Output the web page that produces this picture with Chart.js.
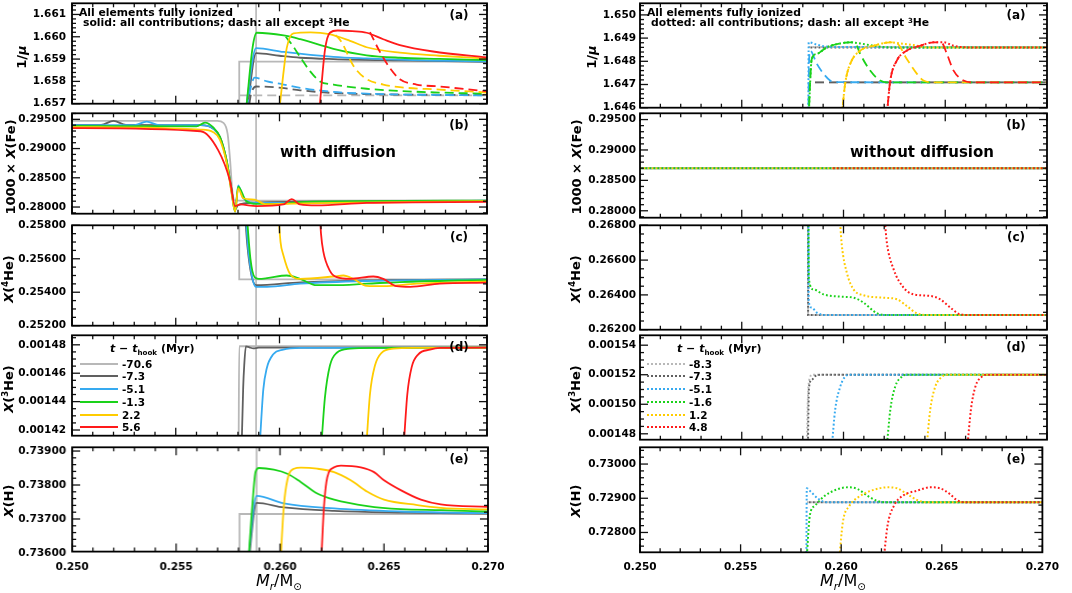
<!DOCTYPE html>
<html>
<head>
<meta charset="utf-8">
<title>Abundance profiles with and without diffusion</title>
<script src="https://cdn.jsdelivr.net/npm/chart.js@4.4.1/dist/chart.umd.min.js"></script>
<style>
html,body{margin:0;padding:0;background:#fff;}
body{width:1072px;height:593px;overflow:hidden;position:relative;font-family:"DejaVu Sans",sans-serif;color:#000;}
canvas{position:absolute;}
.tx{position:absolute;white-space:nowrap;font-weight:bold;line-height:1;}
.yt{position:absolute;white-space:nowrap;font-weight:bold;font-size:13px;line-height:1;transform:translate(-50%,-50%) rotate(-90deg);}
.xt{position:absolute;white-space:nowrap;font-size:16px;line-height:1;transform:translate(-50%,-50%);}
.lg{position:absolute;height:0;width:38px;}
sup{font-size:65%;vertical-align:0.5em;line-height:0;}
sub{font-size:65%;vertical-align:-0.35em;line-height:0;}
</style>
</head>
<body>
<script>
// ====================== DATA ======================
const xTicks = [0.250, 0.255, 0.260, 0.265, 0.270];
const ageWith    = ['-70.6', '-7.3', '-5.1', '-1.3', '2.2', '5.6'];
const ageWithout = ['-8.3', '-7.3', '-5.1', '-1.6', '1.2', '4.8'];
const refMassWith = 0.25887;

// y tick labels and ranges
const yTicks_aL = [1.657, 1.658, 1.659, 1.660, 1.661];     const yRange_aL = [1.657, 1.6615];
const yTicks_aR = [1.646, 1.647, 1.648, 1.649, 1.650];     const yRange_aR = [1.646, 1.6505];
const yTicks_b  = [0.280, 0.285, 0.290, 0.295];            const yRange_b  = [0.27886, 0.29603];
const yTicks_cL = [0.252, 0.254, 0.256, 0.258];            const yRange_cL = [0.252, 0.258];
const yTicks_cR = [0.262, 0.264, 0.266, 0.268];            const yRange_cR = [0.262, 0.268];
const yTicks_dL = [0.00142, 0.00144, 0.00146, 0.00148];    const yRange_dL = [0.001416, 0.0014867];
const yTicks_dR = [0.00148, 0.00150, 0.00152, 0.00154];    const yRange_dR = [0.001476, 0.0015467];
const yTicks_eL = [0.736, 0.737, 0.738, 0.739];            const yRange_eL = [0.73604, 0.73911];
const yTicks_eR = [0.728, 0.729, 0.730];                   const yRange_eR = [0.72742, 0.73049];

// ---------- WITH diffusion (left) ----------
// (a) 1/mu, all contributions
const aL_lgray  = [[0.25806,1.6560],[0.25806,1.65889],[0.270,1.65889]];
const aL_dgray  = [[0.25845,1.6568],[0.25887,1.65927],[0.2600,1.65915],[0.2610,1.65906],[0.2626,1.65900],[0.2658,1.65894],[0.270,1.65888]];
const aL_blue   = [[0.25838,1.6568],[0.25887,1.65949],[0.2602,1.65932],[0.2626,1.65910],[0.2642,1.65903],[0.2670,1.65894],[0.270,1.65890]];
const aL_green  = [[0.25840,1.6568],[0.25870,1.6595],[0.25890,1.66018],[0.2602,1.66006],[0.2610,1.65989],[0.2626,1.65946],[0.2642,1.65917],[0.2658,1.65906],[0.2677,1.65901],[0.270,1.65895]];
const aL_yellow = [[0.26000,1.6568],[0.26018,1.6583],[0.26035,1.6595],[0.26067,1.66015],[0.2615,1.66020],[0.2624,1.66012],[0.2634,1.65982],[0.2642,1.65953],[0.2658,1.65929],[0.2677,1.65915],[0.270,1.65902]];
const aL_red    = [[0.26193,1.6568],[0.26219,1.6594],[0.26243,1.66018],[0.2628,1.66028],[0.2635,1.66025],[0.2642,1.66018],[0.2650,1.65989],[0.2658,1.65963],[0.2674,1.65934],[0.270,1.65907]];
// (a) 1/mu, all except 3He
const aL_lgray_x3  = [[0.25806,1.65737],[0.270,1.65737]];
const aL_dgray_x3  = [[0.25855,1.6570],[0.25862,1.6574],[0.25887,1.65777],[0.2601,1.65771],[0.2610,1.65760],[0.2626,1.65748],[0.2642,1.65743],[0.270,1.65739]];
const aL_blue_x3   = [[0.25840,1.6568],[0.25880,1.65817],[0.2594,1.65800],[0.2602,1.65786],[0.2610,1.65771],[0.2626,1.65753],[0.2642,1.65745],[0.270,1.65737]];
const aL_green_x3  = [[0.26030,1.66000],[0.26060,1.65965],[0.26099,1.65910],[0.26147,1.65846],[0.26195,1.65800],[0.2626,1.65786],[0.2642,1.65767],[0.2658,1.65757],[0.2677,1.65750],[0.270,1.65745]];
const aL_yellow_x3 = [[0.26270,1.66008],[0.26300,1.65975],[0.26356,1.65870],[0.2642,1.65810],[0.2650,1.65786],[0.2658,1.65774],[0.26773,1.65763],[0.270,1.65750]];
const aL_red_x3    = [[0.26436,1.66021],[0.26484,1.65932],[0.26532,1.65860],[0.2658,1.65810],[0.2666,1.65786],[0.26773,1.65777],[0.270,1.65755]];
// (b) 1000 X(Fe)
const bL_lgray  = [[0.250,0.29475],[0.2570,0.29472],[0.25730,0.29440],[0.25750,0.2925],[0.25762,0.2880],[0.25772,0.2830],[0.25785,0.28115],[0.2590,0.28110],[0.270,0.28112]];
const bL_dgray  = [[0.250,0.29405],[0.2514,0.29405],[0.2520,0.29472],[0.2526,0.29405],[0.2562,0.29400],[0.25681,0.2934],[0.25713,0.2920],[0.25745,0.2880],[0.25769,0.2830],[0.25786,0.2796],[0.2580,0.2803],[0.2588,0.28075],[0.2610,0.28090],[0.270,0.28105]];
const bL_blue   = [[0.250,0.29400],[0.2530,0.29400],[0.2536,0.29460],[0.2542,0.29400],[0.2562,0.29400],[0.25681,0.2934],[0.25713,0.2918],[0.25745,0.2878],[0.25769,0.2825],[0.25786,0.2792],[0.25801,0.28371],[0.25825,0.28152],[0.2589,0.28070],[0.2602,0.28070],[0.2626,0.28075],[0.270,0.28110]];
const bL_green  = [[0.250,0.29389],[0.2560,0.29380],[0.25641,0.29443],[0.25681,0.2936],[0.25713,0.2920],[0.25745,0.2880],[0.25769,0.2828],[0.25786,0.2792],[0.25801,0.2835],[0.2584,0.2810],[0.2589,0.28055],[0.2602,0.28060],[0.2610,0.28085],[0.270,0.28110]];
const bL_yellow = [[0.250,0.29368],[0.2562,0.29324],[0.25681,0.2928],[0.25713,0.2915],[0.25745,0.2876],[0.25769,0.2824],[0.25786,0.2792],[0.25801,0.2832],[0.25825,0.2815],[0.2588,0.28126],[0.2593,0.28050],[0.2602,0.28055],[0.2626,0.28070],[0.270,0.28100]];
const bL_red    = [[0.250,0.29351],[0.2562,0.29296],[0.25705,0.28969],[0.25761,0.28452],[0.25786,0.28016],[0.2581,0.28044],[0.2589,0.28016],[0.26018,0.28044],[0.26059,0.28136],[0.26099,0.28044],[0.26179,0.28027],[0.2642,0.28070],[0.270,0.28087]];
// (c) X(4He)
const cL_lgray  = [[0.25806,0.2590],[0.25806,0.25477],[0.270,0.25477]];
const cL_dgray  = [[0.25832,0.2590],[0.25845,0.2568],[0.25865,0.2550],[0.25887,0.25442],[0.2610,0.25459],[0.2642,0.25471],[0.270,0.25477]];
const cL_blue   = [[0.25835,0.2590],[0.25850,0.2565],[0.25870,0.2548],[0.25887,0.25432],[0.2594,0.25432],[0.2610,0.25451],[0.2642,0.25467],[0.270,0.25476]];
const cL_green  = [[0.25840,0.2590],[0.25860,0.2560],[0.25880,0.2549],[0.2590,0.25480],[0.2594,0.25484],[0.26035,0.25500],[0.26099,0.25480],[0.26179,0.25442],[0.2626,0.25442],[0.2642,0.25451],[0.2658,0.25461],[0.270,0.25474]];
const cL_yellow = [[0.25993,0.2590],[0.26005,0.2570],[0.26018,0.25624],[0.26051,0.25509],[0.26099,0.25480],[0.2626,0.25494],[0.26308,0.25500],[0.26356,0.25480],[0.2642,0.25438],[0.2650,0.25436],[0.2666,0.25451],[0.270,0.25465]];
const cL_red    = [[0.26193,0.2590],[0.26200,0.2575],[0.26211,0.25644],[0.26243,0.25528],[0.26276,0.25490],[0.2634,0.25480],[0.26452,0.25494],[0.2650,0.25480],[0.26564,0.25436],[0.26629,0.25432],[0.26773,0.25451],[0.270,0.25457]];
// (d) X(3He)
const dL_lgray  = [[0.25803,0.00141],[0.25806,0.001479],[0.270,0.001479]];
const dL_dgray  = [[0.25818,0.00141],[0.25825,0.001450],[0.25830,0.0014654],[0.25838,0.0014789],[0.25855,0.0014782],[0.25874,0.0014775],[0.2590,0.0014780],[0.270,0.0014780]];
const dL_blue   = [[0.25905,0.00141],[0.25922,0.0014486],[0.25938,0.0014632],[0.2597,0.0014733],[0.26018,0.0014766],[0.26099,0.0014778],[0.270,0.0014780]];
const dL_green  = [[0.26202,0.00141],[0.26219,0.001443],[0.26243,0.0014654],[0.26276,0.0014744],[0.2634,0.0014773],[0.2645,0.0014779],[0.270,0.0014780]];
const dL_yellow = [[0.26419,0.00141],[0.26436,0.0014452],[0.2646,0.0014654],[0.26492,0.0014744],[0.26549,0.0014773],[0.2665,0.0014779],[0.270,0.0014780]];
const dL_red    = [[0.26599,0.00141],[0.26616,0.0014452],[0.26637,0.0014643],[0.26669,0.0014733],[0.26725,0.0014766],[0.26773,0.0014778],[0.270,0.0014780]];
// (e) X(H)
const eL_lgray  = [[0.25805,0.7355],[0.25805,0.737146],[0.270,0.737146]];
const eL_dgray  = [[0.25845,0.7355],[0.25887,0.737475],[0.26018,0.73734],[0.2626,0.73724],[0.2658,0.73719],[0.270,0.73716]];
const eL_blue   = [[0.25842,0.7355],[0.25887,0.73768],[0.26018,0.73746],[0.2626,0.73731],[0.2658,0.73722],[0.270,0.73717]];
const eL_green  = [[0.25845,0.7355],[0.25868,0.7375],[0.25882,0.73838],[0.25898,0.73850],[0.2597,0.73845],[0.26035,0.73833],[0.26099,0.73809],[0.26179,0.73775],[0.2626,0.73757],[0.2642,0.73738],[0.2658,0.73729],[0.26773,0.73726],[0.270,0.73722]];
const eL_yellow = [[0.26000,0.7355],[0.26018,0.73736],[0.26035,0.73814],[0.26067,0.73848],[0.26099,0.73851],[0.26179,0.73848],[0.2626,0.73838],[0.2634,0.73814],[0.2642,0.73780],[0.2650,0.73757],[0.2666,0.73741],[0.26773,0.73733],[0.270,0.73728]];
const eL_red    = [[0.26196,0.7355],[0.26211,0.73736],[0.26227,0.73823],[0.2626,0.73852],[0.26292,0.73857],[0.26388,0.73852],[0.26452,0.73838],[0.2650,0.73814],[0.2658,0.73785],[0.26677,0.73757],[0.26773,0.73743],[0.270,0.73736]];

// ---------- WITHOUT diffusion (right) ----------
// (a) 1/mu, all contributions
const aR_lgray  = [[0.25828,1.64862],[0.270,1.64862]];
const aR_dgray  = [[0.25828,1.64860],[0.270,1.64860]];
const aR_blue   = [[0.25827,1.6455],[0.25829,1.64882],[0.25869,1.64872],[0.25934,1.64862],[0.270,1.64860]];
const aR_green  = [[0.25828,1.6455],[0.25844,1.6481],[0.25869,1.64832],[0.25918,1.64860],[0.25984,1.64877],[0.26033,1.64882],[0.26082,1.64877],[0.26148,1.64867],[0.2623,1.64860],[0.270,1.64860]];
const aR_yellow = [[0.25990,1.6455],[0.26008,1.64703],[0.26033,1.64789],[0.26082,1.64846],[0.26148,1.64867],[0.2623,1.64882],[0.26279,1.64877],[0.26344,1.64870],[0.2641,1.64860],[0.270,1.64860]];
const aR_red    = [[0.26211,1.6455],[0.2623,1.64717],[0.26262,1.64803],[0.26311,1.64846],[0.26377,1.64867],[0.26443,1.64882],[0.26492,1.64882],[0.26541,1.64867],[0.26607,1.64860],[0.270,1.64860]];
// (a) 1/mu, all except 3He
const aR_lgray_x3  = [[0.2586,1.64709],[0.270,1.64709]];
const aR_dgray_x3  = [[0.2586,1.64709],[0.270,1.64709]];
const aR_blue_x3   = [[0.25827,1.6455],[0.25831,1.64803],[0.25836,1.64846],[0.25869,1.64789],[0.25902,1.64746],[0.25934,1.64717],[0.25951,1.64710],[0.270,1.64709]];
const aR_green_x3  = [[0.25828,1.6455],[0.25844,1.6481],[0.25869,1.64832],[0.25918,1.64860],[0.25984,1.64877],[0.26033,1.64882],[0.26060,1.64875],[0.26082,1.64832],[0.26131,1.64760],[0.2618,1.64717],[0.26213,1.64709],[0.270,1.64709]];
const aR_yellow_x3 = [[0.25990,1.6455],[0.26008,1.64703],[0.26033,1.64789],[0.26082,1.64846],[0.26148,1.64867],[0.2623,1.64882],[0.26262,1.64878],[0.26311,1.64810],[0.26361,1.64746],[0.26393,1.64717],[0.26443,1.64709],[0.270,1.64709]];
const aR_red_x3    = [[0.26211,1.6455],[0.2623,1.64717],[0.26262,1.64803],[0.26311,1.64846],[0.26377,1.64867],[0.26443,1.64882],[0.26484,1.64878],[0.26508,1.64832],[0.26541,1.64760],[0.2659,1.64717],[0.26639,1.64709],[0.270,1.64709]];
// (b) 1000 X(Fe)
const bR_lgray  = [[0.250,0.28698],[0.270,0.28698]];
const bR_dgray  = [[0.250,0.28698],[0.270,0.28698]];
const bR_blue   = [[0.250,0.28698],[0.270,0.28698]];
const bR_green  = [[0.250,0.28698],[0.270,0.28698]];
const bR_yellow = [[0.250,0.28698],[0.270,0.28698]];
const bR_red    = [[0.2594,0.28698],[0.270,0.28698]];
// (c) X(4He)
const cR_lgray  = [[0.25826,0.2690],[0.25826,0.26284],[0.270,0.26284]];
const cR_dgray  = [[0.25826,0.2690],[0.25826,0.26284],[0.270,0.26284]];
const cR_blue   = [[0.25827,0.2690],[0.25829,0.26365],[0.25844,0.26327],[0.25869,0.26298],[0.25918,0.26284],[0.270,0.26284]];
const cR_green  = [[0.25828,0.2690],[0.25830,0.26490],[0.25852,0.26432],[0.25902,0.26403],[0.25984,0.26390],[0.26049,0.26384],[0.26098,0.26356],[0.26148,0.26307],[0.2618,0.26288],[0.2623,0.26284],[0.270,0.26284]];
const cR_yellow = [[0.25975,0.2690],[0.25984,0.26800],[0.25992,0.26682],[0.26016,0.26529],[0.26049,0.26432],[0.26098,0.26398],[0.26197,0.26384],[0.26262,0.26375],[0.26311,0.26336],[0.26361,0.26294],[0.2641,0.26284],[0.270,0.26284]];
const cR_red    = [[0.26197,0.2690],[0.26205,0.26800],[0.26213,0.26701],[0.26246,0.26548],[0.26295,0.26442],[0.26344,0.26403],[0.26426,0.26394],[0.26475,0.26375],[0.26525,0.26327],[0.26574,0.26288],[0.26623,0.26284],[0.270,0.26284]];
// (d) X(3He)
const dR_lgray  = [[0.25820,0.00147],[0.25824,0.001500],[0.25835,0.0015180],[0.25847,0.0015200],[0.270,0.0015200]];
const dR_dgray  = [[0.25825,0.00147],[0.25830,0.0015108],[0.25844,0.0015164],[0.25869,0.0015198],[0.25918,0.0015200],[0.270,0.0015200]];
const dR_blue   = [[0.25942,0.00147],[0.25959,0.0014962],[0.25984,0.0015119],[0.26008,0.0015187],[0.26033,0.0015200],[0.270,0.0015200]];
const dR_green  = [[0.26212,0.00147],[0.2623,0.0014962],[0.26254,0.0015119],[0.26287,0.0015187],[0.26311,0.0015200],[0.270,0.0015200]];
const dR_yellow = [[0.26408,0.00147],[0.26426,0.0014962],[0.26451,0.0015119],[0.26484,0.0015187],[0.26508,0.0015200],[0.270,0.0015200]];
const dR_red    = [[0.26608,0.00147],[0.26626,0.0014962],[0.26648,0.0015119],[0.2668,0.0015187],[0.26705,0.0015200],[0.270,0.0015200]];
// (e) X(H)
const eR_lgray  = [[0.25830,0.72888],[0.270,0.72888]];
const eR_dgray  = [[0.25830,0.72888],[0.270,0.72888]];
const eR_blue   = [[0.25827,0.7272],[0.25829,0.72929],[0.25852,0.72917],[0.25885,0.72899],[0.25918,0.72889],[0.2595,0.72888],[0.270,0.72888]];
const eR_green  = [[0.25828,0.7272],[0.25844,0.72849],[0.25869,0.72878],[0.25918,0.72907],[0.25984,0.72927],[0.26033,0.72932],[0.26082,0.72927],[0.26131,0.72907],[0.2618,0.72892],[0.2623,0.72888],[0.270,0.72888]];
const eR_yellow = [[0.25990,0.7272],[0.26008,0.72829],[0.26041,0.72878],[0.26082,0.72902],[0.26148,0.72922],[0.2623,0.72932],[0.26279,0.72929],[0.26328,0.72912],[0.26377,0.72895],[0.26426,0.72888],[0.270,0.72888]];
const eR_red    = [[0.26211,0.7272],[0.2623,0.72819],[0.26262,0.72878],[0.26311,0.72909],[0.26377,0.72922],[0.26443,0.72932],[0.26492,0.72929],[0.26541,0.72912],[0.26574,0.72895],[0.26623,0.72888],[0.270,0.72888]];

// ====================== STYLE / LAYOUT ======================
const KEYS   = ['lgray','dgray','blue','green','yellow','red'];
const COLORS = {lgray:'#b8b8b8', dgray:'#606060', blue:'#36aaf0', green:'#1ad21a', yellow:'#ffcc00', red:'#ff1a1a'};
const ORDER  = {red:1, yellow:2, green:3, blue:4, dgray:5, lgray:6};
const DOT_OFFSET = {lgray:0, dgray:2, blue:1, green:3, yellow:0.5, red:2.5};
const PANEL_TOP = [3, 113, 225, 335, 447];
const PANEL_H = 105;
const COL_LEFT = [72, 640], COL_W = [415, 407], COL_YW = [72, 99], COL_LABPAD = [6, 4];
const TICK_FONT = {family:'DejaVu Sans', size:10.5, weight:'bold'};

const framePlugin = {
  id: 'frameTicks',
  beforeDatasetsDraw(chart, args, o) {
    if (o.vline == null) return;
    const a = chart.chartArea, c = chart.ctx, px = chart.scales.x.getPixelForValue(o.vline);
    c.save(); c.strokeStyle = '#8a8a8a'; c.lineWidth = 1;
    c.beginPath(); c.moveTo(px, a.top); c.lineTo(px, a.bottom); c.stroke(); c.restore();
  },
  afterDatasetsDraw(chart, args, o) {
    const a = chart.chartArea, c = chart.ctx, xs = chart.scales.x, ys = chart.scales.y;
    c.save(); c.strokeStyle = '#111'; c.lineWidth = 1.3;
    const seg = (x1, y1, x2, y2) => { c.beginPath(); c.moveTo(x1, y1); c.lineTo(x2, y2); c.stroke(); };
    for (let i = 0; i <= 20; i++) {
      const px = xs.getPixelForValue(0.25 + i * 0.001), L = (i % 5 === 0) ? 8 : 4;
      seg(px, a.bottom, px, a.bottom - L); seg(px, a.top, px, a.top + L);
    }
    const isMajor = v => o.yMajor.some(m => Math.abs(m - v) < o.yMinor * 0.01);
    const i0 = Math.ceil(ys.min / o.yMinor - 1e-6), i1 = Math.floor(ys.max / o.yMinor + 1e-6);
    for (let i = i0; i <= i1; i++) {
      const v = i * o.yMinor, py = ys.getPixelForValue(v), L = isMajor(v) ? 8 : 4;
      seg(a.left, py, a.left + L, py); seg(a.right, py, a.right - L, py);
    }
    c.lineWidth = 1.8; c.strokeStyle = '#000';
    c.strokeRect(a.left, a.top, a.right - a.left, a.bottom - a.top);
    c.restore();
  }
};
Chart.register(framePlugin);

function mkDataset(arr, key, kind) {
  const step = arr.some((p, i) => i > 0 && p[0] === arr[i - 1][0]);
  return {
    data: arr.map(p => ({x: p[0], y: p[1]})),
    borderColor: COLORS[key],
    borderWidth: kind === 'dot' ? 2 : 1.8,
    borderDash: kind === 'dash' ? [9, 5] : (kind === 'dot' ? [1.8, 2.2] : []),
    borderDashOffset: kind === 'dot' ? DOT_OFFSET[key] : 0,
    borderCapStyle: 'butt',
    pointRadius: 0, fill: false,
    tension: step ? 0 : 0.4,
    cubicInterpolationMode: step ? 'default' : 'monotone',
    order: ORDER[key] + (kind === 'dash' ? 0.5 : 0)
  };
}

function makePanel(col, row, series, yTicks, yRange, yDec, yMinor) {
  const bottom = row === 4;
  const yW = COL_YW[col], plotW = COL_W[col];
  const padR = 20, padT = 10, xH = 28, padB = bottom ? 6 : 10;
  const cv = document.createElement('canvas');
  let W = yW + plotW + padR, H = padT + PANEL_H + (bottom ? xH : 0) + padB;
  cv.width = W; cv.height = H;
  cv.style.width = W + 'px'; cv.style.height = H + 'px';
  document.body.appendChild(cv);
  const xAxis = {type: 'linear', min: 0.25, max: 0.27, display: bottom,
      grid: {display: false, drawTicks: false}, border: {display: false},
      ticks: {font: TICK_FONT, color: '#000', padding: 9, maxRotation: 0, autoSkip: false,
              callback: v => Number(v).toFixed(3)},
      afterBuildTicks: s => { s.ticks = xTicks.map(v => ({value: v})); }};
  if (bottom) xAxis.afterFit = s => { s.height = xH; };
  const chart = new Chart(cv, {
    type: 'line',
    data: {datasets: series.map(s => mkDataset(s[0], s[1], s[2]))},
    options: {
      responsive: false, animation: false, events: [],
      layout: {padding: {left: 0, right: padR, top: padT, bottom: padB}},
      plugins: {legend: {display: false}, tooltip: {enabled: false},
                frameTicks: {vline: col === 0 ? refMassWith : null, yMajor: yTicks, yMinor: yMinor}},
      scales: {
        x: xAxis,
        y: {type: 'linear', min: yRange[0], max: yRange[1],
            grid: {display: false, drawTicks: false}, border: {display: false},
            ticks: {font: TICK_FONT, color: '#000', padding: COL_LABPAD[col], autoSkip: false,
                    callback: v => Number(v).toFixed(yDec)},
            afterBuildTicks: s => { s.ticks = yTicks.map(v => ({value: v})); },
            afterFit: s => { s.width = yW; }}
      }
    }
  });
  // make the plotting area land exactly on its panel box
  let ca = chart.chartArea;
  const dh = PANEL_H - (ca.bottom - ca.top), dw = plotW - (ca.right - ca.left);
  if (Math.abs(dh) > 0.5 || Math.abs(dw) > 0.5) {
    W += dw; H += dh;
    chart.resize(W, H);
    ca = chart.chartArea;
  }
  cv.style.left = (COL_LEFT[col] - ca.left) + 'px';
  cv.style.top = (PANEL_TOP[row] - ca.top) + 'px';
}

function group(list, kind) { return KEYS.map((k, i) => [list[i], k, kind]); }

const L = {
  a: group([aL_lgray, aL_dgray, aL_blue, aL_green, aL_yellow, aL_red], 'solid')
       .concat(group([aL_lgray_x3, aL_dgray_x3, aL_blue_x3, aL_green_x3, aL_yellow_x3, aL_red_x3], 'dash')),
  b: group([bL_lgray, bL_dgray, bL_blue, bL_green, bL_yellow, bL_red], 'solid'),
  c: group([cL_lgray, cL_dgray, cL_blue, cL_green, cL_yellow, cL_red], 'solid'),
  d: group([dL_lgray, dL_dgray, dL_blue, dL_green, dL_yellow, dL_red], 'solid'),
  e: group([eL_lgray, eL_dgray, eL_blue, eL_green, eL_yellow, eL_red], 'solid')
};
const R = {
  a: group([aR_lgray_x3, aR_dgray_x3, aR_blue_x3, aR_green_x3, aR_yellow_x3, aR_red_x3], 'dash')
       .concat(group([aR_lgray, aR_dgray, aR_blue, aR_green, aR_yellow, aR_red], 'dot')),
  b: group([bR_lgray, bR_dgray, bR_blue, bR_green, bR_yellow, bR_red], 'dot'),
  c: group([cR_lgray, cR_dgray, cR_blue, cR_green, cR_yellow, cR_red], 'dot'),
  d: group([dR_lgray, dR_dgray, dR_blue, dR_green, dR_yellow, dR_red], 'dot'),
  e: group([eR_lgray, eR_dgray, eR_blue, eR_green, eR_yellow, eR_red], 'dot')
};

makePanel(0, 0, L.a, yTicks_aL, yRange_aL, 3, 0.0002);
makePanel(0, 1, L.b, yTicks_b,  yRange_b,  5, 0.001);
makePanel(0, 2, L.c, yTicks_cL, yRange_cL, 5, 0.0005);
makePanel(0, 3, L.d, yTicks_dL, yRange_dL, 5, 0.000005);
makePanel(0, 4, L.e, yTicks_eL, yRange_eL, 5, 0.0002);
makePanel(1, 0, R.a, yTicks_aR, yRange_aR, 3, 0.0002);
makePanel(1, 1, R.b, yTicks_b,  yRange_b,  5, 0.001);
makePanel(1, 2, R.c, yTicks_cR, yRange_cR, 5, 0.0005);
makePanel(1, 3, R.d, yTicks_dR, yRange_dR, 5, 0.000005);
makePanel(1, 4, R.e, yTicks_eR, yRange_eR, 5, 0.0002);

// ====================== TEXT OVERLAYS ======================
function addText(html, x, y, cls, size, extra) {
  const d = document.createElement('div');
  d.className = cls; d.innerHTML = html;
  d.style.left = x + 'px'; d.style.top = y + 'px';
  if (size) d.style.fontSize = size + 'px';
  if (extra) Object.assign(d.style, extra);
  document.body.appendChild(d);
  return d;
}
const yTitles = ['1/<i>μ</i>', '1000 × <i>X</i>(Fe)', '<i>X</i>(<sup>4</sup>He)', '<i>X</i>(<sup>3</sup>He)', '<i>X</i>(H)'];
const yTitleXL = [21, 10, 8, 8, 8], yTitleXR = [591, 576, 575, 575, 575];
const panelLetters = ['(a)', '(b)', '(c)', '(d)', '(e)'];
for (let r = 0; r < 5; r++) {
  const cy = PANEL_TOP[r] + PANEL_H / 2 + 1;
  addText(yTitles[r], yTitleXL[r], cy, 'yt');
  addText(yTitles[r], yTitleXR[r], cy, 'yt');
  addText(panelLetters[r], 459, PANEL_TOP[r] + 12, 'tx', 12, {transform: 'translate(-50%,-50%)'});
  addText(panelLetters[r], 1016, PANEL_TOP[r] + 12, 'tx', 12, {transform: 'translate(-50%,-50%)'});
}
const xTitle = '<i>M<sub>r</sub></i>/M<sub>⊙</sub>';
addText(xTitle, 279, 581, 'xt');
addText(xTitle, 843, 581, 'xt');

addText('All elements fully ionized', 79, 7.5, 'tx', 10.8);
addText('solid: all contributions; dash: all except <sup>3</sup>He', 83, 18, 'tx', 10.8);
addText('All elements fully ionized', 647, 7.5, 'tx', 10.8);
addText('dotted: all contributions; dash: all except <sup>3</sup>He', 651, 18, 'tx', 10.8);
addText('with diffusion', 338, 152, 'tx', 15, {transform: 'translate(-50%,-50%)'});
addText('without diffusion', 922, 152, 'tx', 15, {transform: 'translate(-50%,-50%)'});

function legend(x0, labels, style) {
  addText('<i>t</i> − <i>t</i><sub>hook</sub> (Myr)', x0 + 30, 343, 'tx', 11);
  labels.forEach((lab, i) => {
    const y = 363.5 + i * 12.75;
    const ln = document.createElement('div');
    ln.className = 'lg';
    ln.style.left = x0 + 'px'; ln.style.top = (y - 1) + 'px';
    ln.style.borderTop = '2px ' + style + ' ' + COLORS[KEYS[i]];
    document.body.appendChild(ln);
    addText(lab, x0 + 42, y, 'tx', 10.5, {transform: 'translateY(-50%)'});
  });
}
legend(80, ageWith, 'solid');
legend(647, ageWithout, 'dotted');
</script>
</body>
</html>
